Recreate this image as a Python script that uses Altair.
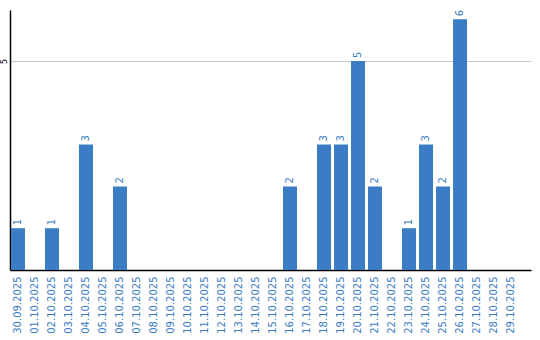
import altair as alt
import pandas as pd

dates = ["30.09.2025", "01.10.2025", "02.10.2025", "03.10.2025", "04.10.2025",
         "05.10.2025", "06.10.2025", "07.10.2025", "08.10.2025", "09.10.2025",
         "10.10.2025", "11.10.2025", "12.10.2025", "13.10.2025", "14.10.2025",
         "15.10.2025", "16.10.2025", "17.10.2025", "18.10.2025", "19.10.2025",
         "20.10.2025", "21.10.2025", "22.10.2025", "23.10.2025", "24.10.2025",
         "25.10.2025", "26.10.2025", "27.10.2025", "28.10.2025", "29.10.2025"]
counts = [1, 0, 1, 0, 3, 0, 2, 0, 0, 0,
          0, 0, 0, 0, 0, 0, 2, 0, 3, 3,
          5, 2, 0, 1, 3, 2, 6, 0, 0, 0]

df = pd.DataFrame({"date": dates, "count": counts})
df["label"] = df["count"].apply(lambda v: str(v) if v > 0 else "")

BLUE = "#3b7dc4"

x = alt.X("date:N", sort=dates, title=None,
          scale=alt.Scale(paddingInner=0.176, paddingOuter=0.41, align=0.07),
          axis=alt.Axis(labelAngle=270, labelColor=BLUE, labelFontSize=10,
                        labelFont="DejaVu Sans", ticks=False, domainColor="#000",
                        domainWidth=1.5, labelPadding=6, labelAlign="right",
                        labelBaseline="middle"))
y = alt.Y("count:Q", title=None, scale=alt.Scale(domain=[0, 6.22], nice=False),
          axis=alt.Axis(values=[5], labelAngle=270, labelFontSize=8, labelColor="#000",
                        labelFont="DejaVu Sans", ticks=False, domainColor="#000",
                        domainWidth=1.5, gridColor="#c8c8c8", labelPadding=2,
                        labelAlign="center", labelBaseline="bottom"))

bars = alt.Chart(df).mark_bar(color=BLUE).encode(x=x, y=y)
text = alt.Chart(df).mark_text(angle=270, align="left", baseline="middle", dx=3,
                               color=BLUE, fontSize=10, font="DejaVu Sans").encode(
    x=alt.X("date:N", sort=dates), y="count:Q", text="label:N")

chart = (bars + text).properties(
    width=521, height=260,
    autosize=alt.AutoSizeParams(type="none"),
    padding={"left": 10, "top": 10, "right": 9, "bottom": 70},
).configure_view(stroke=None).configure_axisX(grid=False)

chart.save("out.html", embed_options={"renderer": "svg", "actions": False})
